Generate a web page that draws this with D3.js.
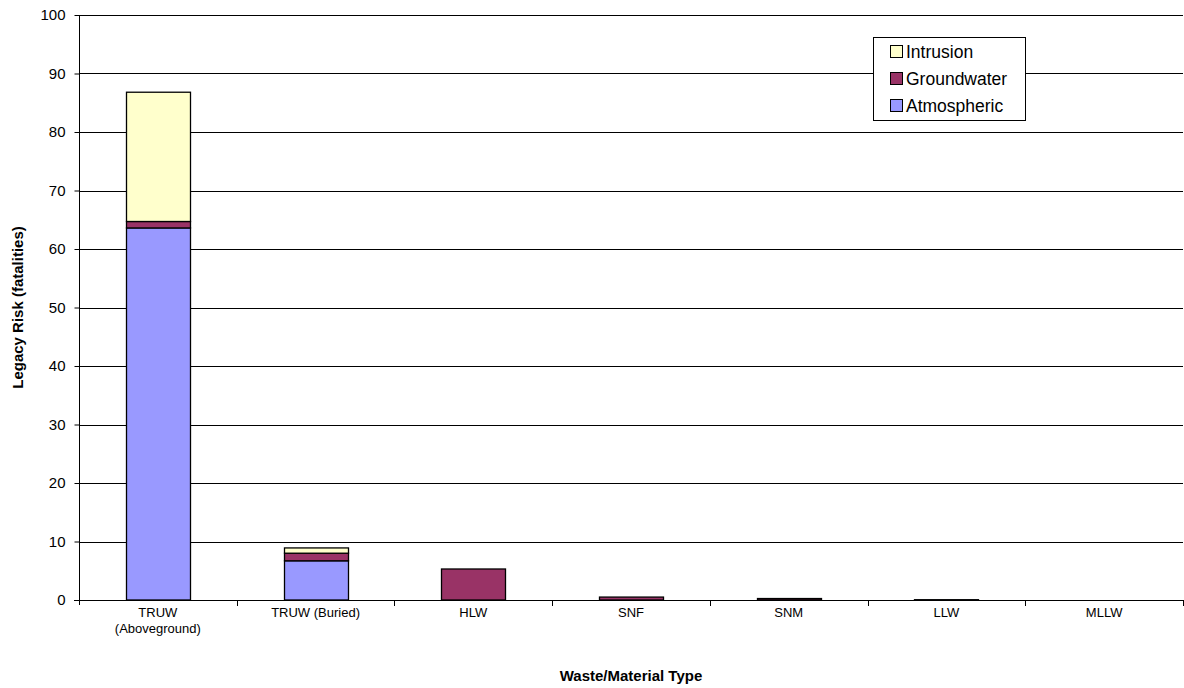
<!DOCTYPE html>
<html><head><meta charset="utf-8">
<script src="https://cdn.jsdelivr.net/npm/d3@7/dist/d3.min.js"></script>
<style>body{margin:0;background:#fff;} svg{display:block;font-family:"Liberation Sans",Arial,sans-serif;}</style>
</head><body>
<svg id="chart" width="1184" height="688"></svg>
<script>
const categories = ["TRUW\n(Aboveground)", "TRUW (Buried)", "HLW", "SNF", "SNM", "LLW", "MLLW"];
const atmospheric = [63.6, 6.7, 0, 0, 0, 0.05, 0];
const groundwater = [1.1, 1.3, 5.3, 0.5, 0.25, 0, 0];
const intrusion = [22.1, 0.9, 0, 0, 0, 0, 0];
const seriesNames = ["Atmospheric", "Groundwater", "Intrusion"];
const seriesColors = ["#9999FF", "#993366", "#FFFFCC"];
const yTicks = [0, 10, 20, 30, 40, 50, 60, 70, 80, 90, 100];

(function () {
const svg = d3.select("#chart");
const pLeft = 79, pRight = 1183, pTop = 15, pBottom = 600;

const x = d3.scaleBand().domain(categories).range([pLeft, pRight]).paddingInner(0.594).paddingOuter(0.297);
const xb = d3.scaleBand().domain(categories).range([pLeft, pRight]).padding(0);
const y = d3.scaleLinear().domain([0, 100]).range([pBottom, pTop]);

// gridlines
svg.append("g").selectAll("line").data(yTicks.filter(d => d > 0)).join("line")
  .attr("x1", pLeft).attr("x2", pRight)
  .attr("y1", d => Math.round(y(d)) + 0.5).attr("y2", d => Math.round(y(d)) + 0.5)
  .attr("stroke", "#000").attr("stroke-width", 1);

// stacked bars
const rows = categories.map((c, i) => ({cat: c, Atmospheric: atmospheric[i], Groundwater: groundwater[i], Intrusion: intrusion[i]}));
const stack = d3.stack().keys(seriesNames)(rows);
svg.append("g").selectAll("g").data(stack).join("g")
  .attr("fill", (d, i) => seriesColors[i])
  .selectAll("rect").data(d => d.filter(p => p[1] - p[0] > 0)).join("rect")
  .attr("x", d => Math.round(x(d.data.cat)) + 0.5)
  .attr("width", Math.round(x.bandwidth()))
  .attr("y", d => y(d[1]))
  .attr("height", d => y(d[0]) - y(d[1]))
  .attr("stroke", "#000").attr("stroke-width", 1.3);

// y axis
const yAxis = d3.axisLeft(y).tickValues(yTicks).tickSize(5).tickPadding(9).tickFormat(d3.format("d"));
const ya = svg.append("g").attr("transform", `translate(${pLeft + 0.5},0)`).call(yAxis);
ya.select(".domain").attr("stroke", "#000").attr("d", `M0,${pTop}V${pBottom + 5}`);
ya.selectAll(".tick line").attr("stroke", "#000");
ya.selectAll("text").attr("font-size", 15).attr("fill", "#000").style("font-family", "Liberation Sans, Arial, sans-serif");

// x axis line
svg.append("line").attr("x1", pLeft - 5).attr("x2", pRight).attr("y1", pBottom + 0.5).attr("y2", pBottom + 0.5).attr("stroke", "#000");
// x ticks between categories
const bounds = categories.map(c => xb(c)).concat([pRight]);
svg.append("g").selectAll("line").data(bounds.slice(1)).join("line")
  .attr("x1", d => Math.round(d) + 0.5).attr("x2", d => Math.round(d) + 0.5)
  .attr("y1", pBottom).attr("y2", pBottom + 6).attr("stroke", "#000");

// x labels
const xl = svg.append("g").selectAll("text").data(categories).join("text")
  .attr("x", d => xb(d) + xb.bandwidth() / 2)
  .attr("y", 617)
  .attr("text-anchor", "middle").attr("font-size", 13).attr("fill", "#000");
xl.each(function(d) {
  const lines = d.split("\n");
  d3.select(this).selectAll("tspan").data(lines).join("tspan")
    .attr("x", xb(d) + xb.bandwidth() / 2)
    .attr("dy", (l, i) => i === 0 ? 0 : 16)
    .text(l => l);
});

// axis titles
svg.append("text").attr("x", (pLeft + pRight) / 2).attr("y", 681).attr("text-anchor", "middle")
  .attr("font-size", 15).attr("font-weight", "bold").text("Waste/Material Type");
svg.append("text").attr("transform", `translate(23,${(pTop + pBottom) / 2}) rotate(-90)`).attr("text-anchor", "middle")
  .attr("font-size", 15).attr("font-weight", "bold").text("Legacy Risk (fatalities)");

// legend
const legend = svg.append("g");
legend.append("rect").attr("x", 873.5).attr("y", 37.5).attr("width", 152).attr("height", 83)
  .attr("fill", "#fff").attr("stroke", "#000");
const legItems = seriesNames.map((n, i) => ({name: n, color: seriesColors[i]})).reverse();
const lg = legend.selectAll("g.item").data(legItems).join("g").attr("class", "item")
  .attr("transform", (d, i) => `translate(890,${52 + i * 27})`);
lg.append("rect").attr("x", 0.5).attr("y", -6.5).attr("width", 12).attr("height", 12)
  .attr("fill", d => d.color).attr("stroke", "#000");
lg.append("text").attr("x", 16).attr("y", 6).attr("font-size", 17.5).attr("fill", "#000").text(d => d.name);
})();
</script>
</body></html>
